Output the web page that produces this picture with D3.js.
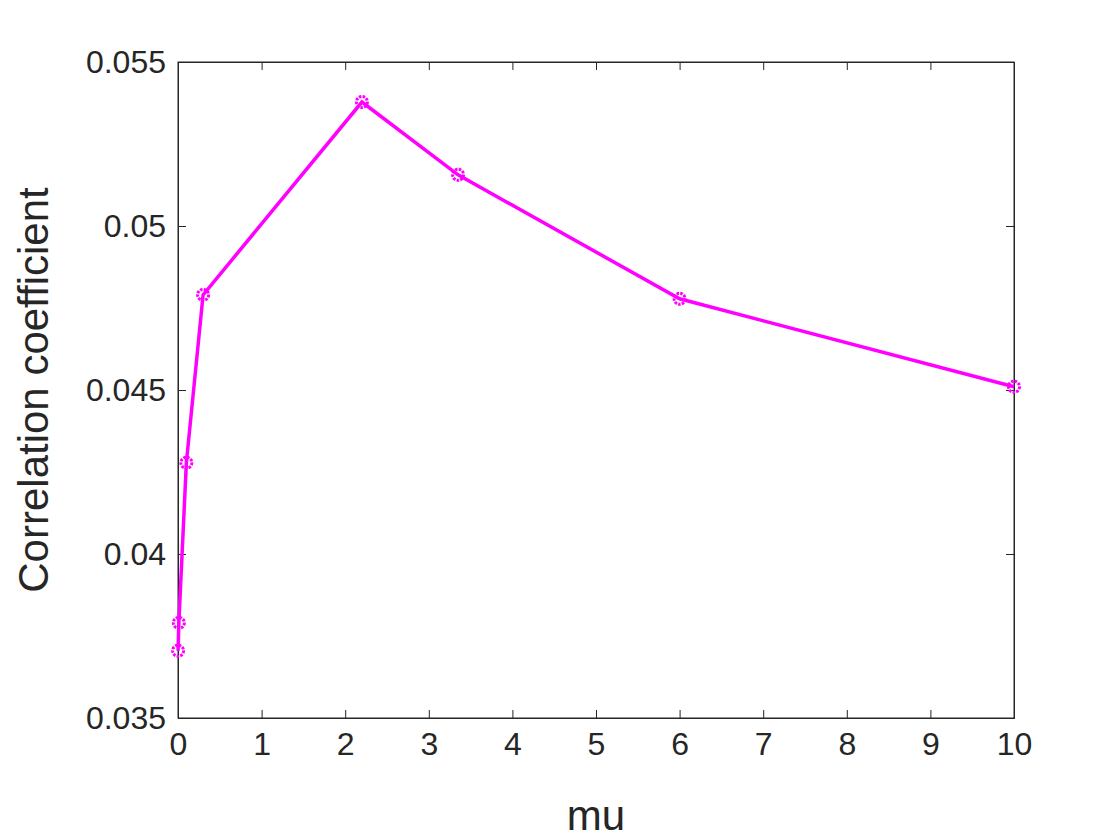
<!DOCTYPE html><html><head><meta charset="utf-8"><script src="https://cdn.jsdelivr.net/npm/d3@7"></script>
<style>body{margin:0;background:#fff}</style></head><body><svg id="c" width="1120" height="840"></svg>
<script>
const muValues=[0.001,0.01,0.1,0.3,2.2,3.35,6,10];
const corrValues=[0.03705,0.0379,0.04278,0.0479,0.05378,0.05156,0.04778,0.0451];
const xTicks=[0,1,2,3,4,5,6,7,8,9,10];
const yTicks=[0.035,0.04,0.045,0.05,0.055];
const svg=d3.select("#c");
const L=178,R=1014,T=62,B=718;
const x=d3.scaleLinear().domain([0,10]).range([L,R]);
const y=d3.scaleLinear().domain([0.035,0.055]).range([B,T]);
const font="'Liberation Sans', Arial, sans-serif";
svg.append("rect").attr("x",L).attr("y",T).attr("width",R-L).attr("height",B-T).attr("fill","#fff").attr("stroke","#262626").attr("stroke-width",1);
svg.append("g").attr("transform",`translate(0,${B})`).call(d3.axisBottom(x).tickValues(xTicks).tickFormat(d3.format("d")).tickSize(-8).tickPadding(14));
svg.append("g").attr("transform",`translate(${L},0)`).call(d3.axisLeft(y).tickValues(yTicks).tickFormat(d=>String(+d.toFixed(3))).tickSize(-8).tickPadding(12));
svg.append("g").attr("transform",`translate(0,${T})`).call(d3.axisTop(x).tickValues(xTicks).tickFormat("").tickSize(-8));
svg.append("g").attr("transform",`translate(${R},0)`).call(d3.axisRight(y).tickValues(yTicks).tickFormat("").tickSize(-8));
svg.selectAll(".domain").attr("stroke","#262626");
svg.selectAll(".tick line").attr("stroke","#262626");
svg.selectAll(".tick text").style("font-family",font).style("font-size","32px").attr("fill","#262626");
svg.append("text").attr("x",(L+R)/2).attr("y",830).attr("text-anchor","middle").style("font-family",font).style("font-size","42px").attr("fill","#262626").text("mu");
svg.append("text").attr("transform",`translate(48,${(T+B)/2}) rotate(-90)`).attr("text-anchor","middle").style("font-family",font).style("font-size","42px").attr("fill","#262626").text("Correlation coefficient");
const data=muValues.map((m,i)=>[m,corrValues[i]]);
svg.append("path").datum(data).attr("d",d3.line().x(d=>x(d[0])).y(d=>y(d[1]))).attr("fill","none").attr("stroke","#ff00ff").attr("stroke-width",3.5);
svg.selectAll("circle.p").data(data).join("circle").attr("cx",d=>x(d[0])).attr("cy",d=>y(d[1])).attr("r",5.5).attr("fill","none").attr("stroke","#ff00ff").attr("stroke-width",3).attr("stroke-dasharray","2.5,1.2");
</script></body></html>
